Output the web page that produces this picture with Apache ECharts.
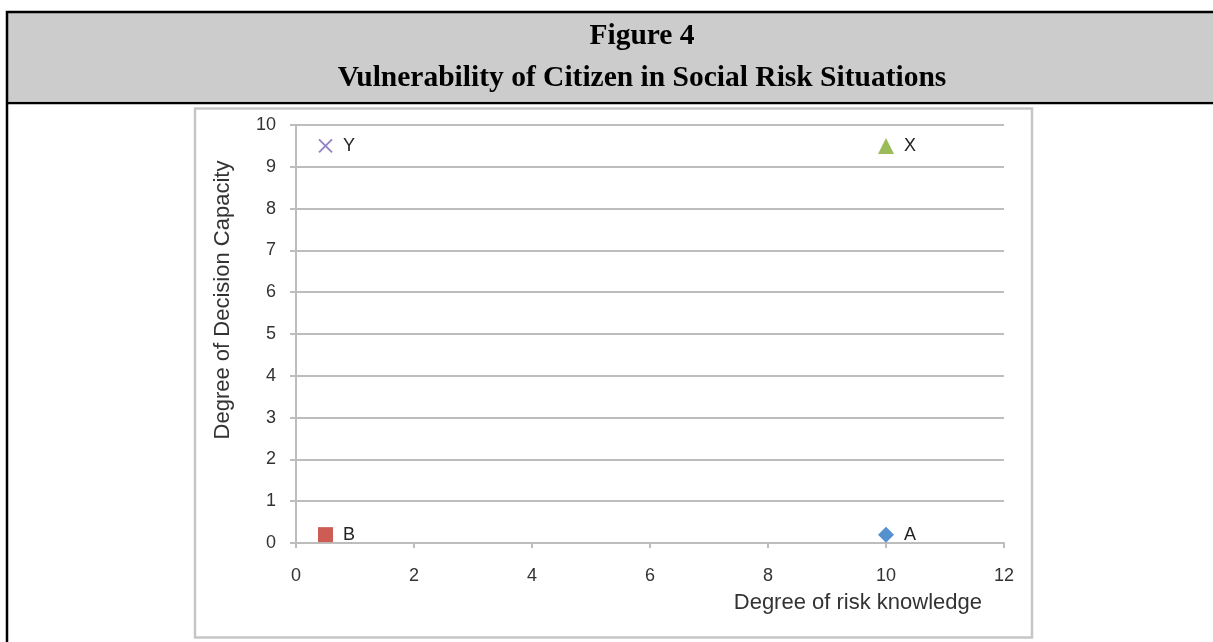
<!DOCTYPE html>
<html>
<head>
<meta charset="utf-8">
<title>Figure 4</title>
<script src="https://cdn.jsdelivr.net/npm/echarts@6/dist/echarts.min.js"></script>
<style>
  html, body { margin: 0; padding: 0; background: #fff; }
  #chart { width: 1213px; height: 642px; }
</style>
</head>
<body>
<div id="chart"></div>
<script>
// Citizen profiles: knowledge of risk vs. capacity to decide
const pointNames = ['A', 'B', 'X', 'Y'];
const riskKnowledge = [10, 0.5, 10, 0.5];
const decisionCapacity = [0.2, 0.2, 9.5, 9.5];
const pointSymbols = ['diamond', 'rect', 'triangle', 'path://M0,0 L10,10 M10,0 L0,10'];
const pointColors = ['#5590cf', '#cd5c55', '#9bbb59', '#9585c4'];

const titleLines = ['Figure 4', 'Vulnerability of Citizen in Social Risk Situations'];
const xAxisTitle = 'Degree of risk knowledge';
const yAxisTitle = 'Degree of Decision Capacity';

const chart = echarts.init(document.getElementById('chart'));

const series = pointNames.map((name, i) => {
  const isCross = pointSymbols[i].startsWith('path://');
  return {
    name: name,
    type: 'scatter',
    symbol: pointSymbols[i],
    symbolSize: isCross ? 13 : (pointSymbols[i] === 'rect' ? 15 : 16),
    itemStyle: isCross
      ? { color: 'rgba(0,0,0,0)', borderColor: pointColors[i], borderWidth: 2, opacity: 1 }
      : { color: pointColors[i], opacity: 1 },
    label: {
      show: true,
      position: 'right',
      distance: 10,
      formatter: name,
      color: '#222',
      fontFamily: 'Liberation Sans, Arial, sans-serif',
      fontSize: 18
    },
    data: [[riskKnowledge[i], decisionCapacity[i]]]
  };
});

const axisGray = '#bdbdbd';
const tickFont = { color: '#333', fontFamily: 'Liberation Sans, Arial, sans-serif', fontSize: 18 };
const titleFont = { fontFamily: 'Liberation Serif, Times New Roman, serif', fontWeight: 'bold', fontSize: 29.5, color: '#000' };

chart.setOption({
  animation: false,
  backgroundColor: '#fff',
  graphic: [
    // header band and table frame
    { type: 'rect', z: -10, shape: { x: 8, y: 13, width: 1300, height: 88 }, style: { fill: '#cccccc' } },
    { type: 'rect', z: -9, shape: { x: 7, y: 12, width: 1300, height: 700 }, style: { fill: 'none', stroke: '#000', lineWidth: 2.5 } },
    { type: 'line', z: -9, shape: { x1: 7, y1: 103, x2: 1300, y2: 103 }, style: { stroke: '#000', lineWidth: 2.5 } },
    // chart area border
    { type: 'rect', z: -8, shape: { x: 195, y: 108.5, width: 837, height: 529 }, style: { fill: '#fff', stroke: '#c6c6c6', lineWidth: 2.5 } }
  ],
  title: [
    { text: titleLines[0], left: 637, top: 16, textAlign: 'center', textStyle: titleFont },
    { text: titleLines[1], left: 637, top: 58, textAlign: 'center', textStyle: titleFont }
  ],
  grid: { left: 296, right: 209, top: 125, bottom: 99, containLabel: false },
  xAxis: {
    type: 'value',
    min: 0, max: 12, interval: 2,
    name: xAxisTitle,
    nameLocation: 'end',
    nameGap: 0,
    nameTextStyle: {
      color: '#333', fontFamily: 'Liberation Sans, Arial, sans-serif', fontSize: 22,
      align: 'right', verticalAlign: 'top', padding: [49, 22, 0, 0]
    },
    axisLine: { show: true, lineStyle: { color: axisGray, width: 2 } },
    axisTick: { show: true, length: 5, lineStyle: { color: axisGray, width: 2 } },
    axisLabel: Object.assign({ margin: 24 }, tickFont),
    splitLine: { show: false }
  },
  yAxis: {
    type: 'value',
    min: 0, max: 10, interval: 1,
    name: yAxisTitle,
    nameLocation: 'middle',
    nameGap: 62,
    nameRotate: 90,
    nameTextStyle: {
      color: '#333', fontFamily: 'Liberation Sans, Arial, sans-serif', fontSize: 22,
      padding: [0, 0, 0, 68]
    },
    axisLine: { show: true, lineStyle: { color: axisGray, width: 2 } },
    axisTick: { show: true, length: 6, lineStyle: { color: axisGray, width: 2 } },
    axisLabel: Object.assign({ margin: 20 }, tickFont),
    splitLine: { show: true, lineStyle: { color: axisGray, width: 2 } }
  },
  series: series
});
</script>
</body>
</html>
